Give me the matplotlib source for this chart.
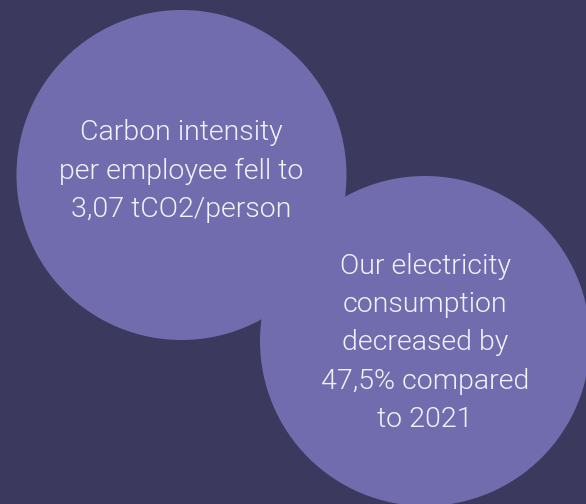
import matplotlib.pyplot as plt
from matplotlib.patches import Circle

# two circles (pixel coordinates of the 586x504 picture)
circle_x = [181.5, 425]
circle_y = [175, 341]
circle_r = [165, 165]

# text inside each circle
labels = [
    "Carbon intensity\nper employee fell to\n3,07 tCO2/person",
    "Our electricity\nconsumption\ndecreased by\n47,5% compared\nto 2021",
]
label_y = [171, 343]

bg_color = "#3c395e"
circle_color = "#716cad"
text_color = "#f3f2fa"

fig = plt.figure(figsize=(5.86, 5.04), dpi=100)
fig.patch.set_facecolor(bg_color)
ax = fig.add_axes([0, 0, 1, 1])
ax.set_facecolor(bg_color)
ax.set_xlim(0, 586)
ax.set_ylim(504, 0)
ax.set_aspect("equal")
ax.axis("off")

for cx, cy, r in zip(circle_x, circle_y, circle_r):
    ax.add_patch(Circle((cx, cy), r, facecolor=circle_color, edgecolor="none"))

for cx, ly, txt in zip(circle_x, label_y, labels):
    ax.text(cx, ly, txt, ha="center", va="center", color=text_color,
            fontsize=20.5, family="Roboto", fontweight=300, linespacing=1.54,
            multialignment="center")

fig.savefig("out.png", dpi=100, facecolor=bg_color)
